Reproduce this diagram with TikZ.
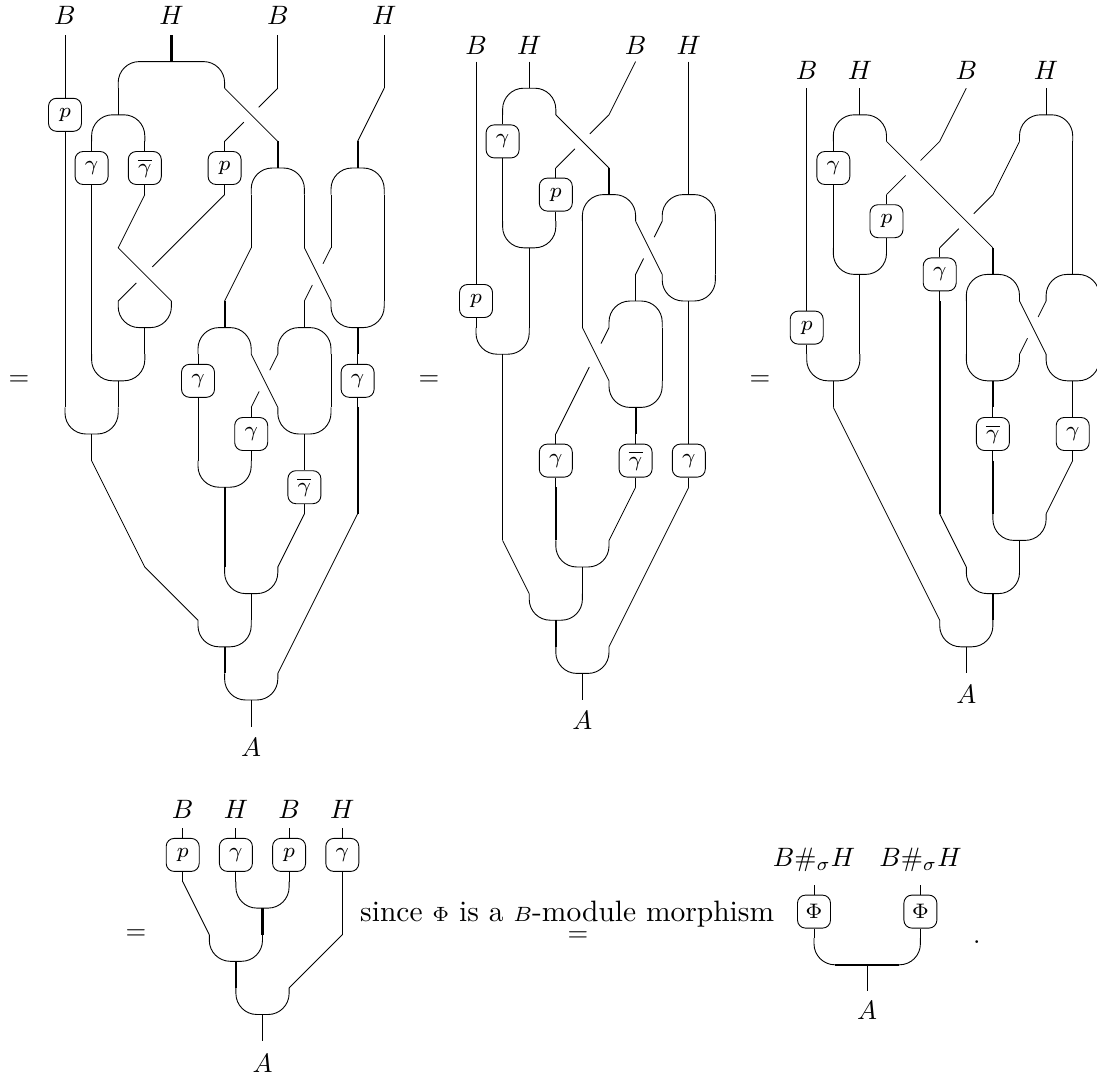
\documentclass[tikz,border=0pt]{standalone}
\usepackage{graphicx}
\usetikzlibrary{calc}
\newcommand{\sk}[1]{\scalebox{2.66}{#1}}
\newcommand{\skb}[1]{\scalebox{3.0}{#1}}
\tikzset{
  wire/.style={line width=1pt},
  diag/.style={line width=0.8pt},
  bold/.style={line width=2.2pt},
  arcw/.style={line width=0.9pt, rounded corners=21pt},
  boxn/.style={draw, line width=0.9pt, rounded corners=8pt, minimum width=33pt, minimum height=33pt, inner sep=0pt, fill=white},
  lbl/.style={inner sep=0pt}
}
\newcommand{\gbox}[4]{%
  \node[boxn] (#4) at (#1,#2+1) {\skb{$\scriptstyle #3$}};
  \draw[wire] (#1,#2) -- (#4.north);
  \draw[wire] (#4.south) -- (#1,#2+2);}
\newcommand{\gmult}[3]{\draw[arcw] (#1,#3) -- (#1,#3+1) -- (#2,#3+1) -- (#2,#3);}
\newcommand{\gcomult}[3]{\draw[arcw] (#1,#3+1) -- (#1,#3) -- (#2,#3) -- (#2,#3+1);}
\newcommand{\undr}[4]{\draw[diag] (#1) -- ($(#1)!#3!(#2)$); \draw[diag] ($(#1)!#4!(#2)$) -- (#2);}
\begin{document}
\begin{tikzpicture}[x=1pt,y=-1pt]
\useasboundingbox (0pt,0pt) rectangle (1097pt,-1076pt);
\clip (0pt,0pt) rectangle (1097pt,-1076pt);

% ================= Diagram 1 =================
\begin{scope}[shift={(65pt,-35pt)}, x=26.6pt, y=-26.6pt]
\node[lbl] (aB1) at (0,-0.75) {\sk{$B$}};
\node[lbl] (aH1) at (4,-0.75) {\sk{$H$}};
\node[lbl] (aB2) at (8,-0.75) {\sk{$B$}};
\node[lbl] (aH2) at (12,-0.75) {\sk{$H$}};
\node[lbl] (aA) at (7,26.77) {\sk{$A$}};
\draw[wire] (0,0) -- (0,2);
\gbox{0}{2}{p}{ap1}
\draw[wire] (0,4) -- (0,14);
\gmult{0}{2}{14}
\draw[bold] (4,0) -- (4,1);
\gcomult{2}{6}{1}
\draw[wire] (2,2) -- (2,3);
\gcomult{1}{3}{3}
\gbox{1}{4}{\gamma}{ag1}
\gbox{3}{4}{\overline{\gamma}}{agb1}
\draw[wire] (1,6) -- (1,12);
\gmult{1}{3}{12}
\draw[diag] (3,6) -- (2,8) -- (4,10);
\draw[wire] (8,0) -- (8,2);
\draw[diag] (6,2) -- (8,4);
\undr{8,2}{6,4}{0.36}{0.64}
\gbox{6}{4}{p}{ap2}
\undr{6,6}{2,10}{0.68}{0.83}
\gmult{2}{4}{10}
\draw[wire] (3,11) -- (3,12);
\draw[wire] (2,13) -- (2,14);
\draw[wire] (1,15) -- (1,16);
\draw[diag] (1,16) -- (3,20) -- (5,22);
\gmult{5}{7}{22}
\draw[bold] (6,23) -- (6,24);
\gmult{6}{8}{24}
\draw[wire] (7,25) -- (7,26);
\draw[bold] (8,4) -- (8,5);
\gcomult{7}{9}{5}
\draw[wire] (7,6) -- (7,8);
\draw[wire] (9,6) -- (9,8);
\draw[diag] (7,8) -- (6,10);
\draw[bold] (6,10) -- (6,11);
\gcomult{5}{7}{11}
\draw[diag] (9,8) -- (10,10);
\undr{10,8}{9,10}{0.3}{0.7}
\draw[wire] (12,0) -- (12,2);
\draw[diag] (12,2) -- (11,4);
\draw[bold] (11,4) -- (11,5);
\gcomult{10}{12}{5}
\draw[wire] (10,6) -- (10,8);
\draw[wire] (12,6) -- (12,10);
\gmult{10}{12}{10}
\draw[bold] (11,11) -- (11,12);
\gbox{11}{12}{\gamma}{ag2}
\draw[bold] (11,14) -- (11,18);
\draw[diag] (11,18) -- (8,24);
\draw[wire] (9,10) -- (9,11);
\gcomult{8}{10}{11}
\gbox{5}{12}{\gamma}{ag3}
\draw[wire] (5,14) -- (5,16);
\gmult{5}{7}{16}
\draw[diag] (7,12) -- (8,14);
\undr{8,12}{7,14}{0.3}{0.7}
\gbox{7}{14}{\gamma}{ag4}
\draw[wire] (10,12) -- (10,14);
\gmult{8}{10}{14}
\draw[wire] (9,15) -- (9,16);
\gbox{9}{16}{\overline{\gamma}}{agb2}
\draw[diag] (9,18) -- (8,20);
\draw[bold] (6,17) -- (6,20);
\gmult{6}{8}{20}
\draw[wire] (7,21) -- (7,22);
\end{scope}

% ================= Diagram 2 =================
\begin{scope}[shift={(476pt,-35pt)}, x=26.6pt, y=-26.6pt]
\node[lbl] (bB1) at (0,0.38) {\sk{$B$}};
\node[lbl] (bH1) at (2,0.38) {\sk{$H$}};
\node[lbl] (bB2) at (6,0.38) {\sk{$B$}};
\node[lbl] (bH2) at (8,0.38) {\sk{$H$}};
\node[lbl] (bA) at (4,25.75) {\sk{$A$}};
\draw[wire] (0,1) -- (0,9);
\gbox{0}{9}{p}{bp1}
\gmult{0}{2}{11}
\draw[wire] (2,1) -- (2,2);
\gcomult{1}{3}{2}
\gbox{1}{3}{\gamma}{bg1}
\draw[wire] (1,5) -- (1,7);
\gmult{1}{3}{7}
\draw[wire] (2,8) -- (2,11);
\draw[wire] (1,12) -- (1,19);
\draw[diag] (1,19) -- (2,21);
\gmult{2}{4}{21}
\draw[bold] (3,22) -- (3,23);
\gmult{3}{5}{23}
\draw[wire] (4,24) -- (4,25);
\draw[diag] (3,3) -- (5,5);
\draw[diag] (6,1) -- (5,3);
\undr{5,3}{3,5}{0.36}{0.64}
\gbox{3}{5}{p}{bp2}
\draw[bold] (5,5) -- (5,6);
\gcomult{4}{6}{6}
\draw[wire] (4,7) -- (4,11);
\draw[diag] (4,11) -- (5,13);
\draw[diag] (6,7) -- (7,9);
\draw[wire] (8,1) -- (8,6);
\gcomult{7}{9}{6}
\undr{7,7}{6,9}{0.3}{0.7}
\draw[wire] (9,7) -- (9,9);
\gmult{7}{9}{9}
\draw[wire] (8,10) -- (8,15);
\gbox{8}{15}{\gamma}{bg2}
\draw[diag] (8,17) -- (5,23);
\draw[wire] (6,9) -- (6,10);
\gcomult{5}{7}{10}
\draw[wire] (7,11) -- (7,13);
\gmult{5}{7}{13}
\draw[bold] (6,14) -- (6,15);
\gbox{6}{15}{\overline{\gamma}}{bgb}
\draw[diag] (6,17) -- (5,19);
\undr{5,11}{3,15}{0.15}{0.37}
\gbox{3}{15}{\gamma}{bg3}
\draw[bold] (3,17) -- (3,19);
\gmult{3}{5}{19}
\draw[wire] (4,20) -- (4,21);
\end{scope}

% ================= Diagram 3 =================
\begin{scope}[shift={(806.7pt,-35pt)}, x=26.6pt, y=-26.6pt]
\node[lbl] (cB1) at (0,1.32) {\sk{$B$}};
\node[lbl] (cH1) at (2,1.32) {\sk{$H$}};
\node[lbl] (cB2) at (6,1.32) {\sk{$B$}};
\node[lbl] (cH2) at (9,1.32) {\sk{$H$}};
\node[lbl] (cA) at (6,24.8) {\sk{$A$}};
\draw[wire] (0,2) -- (0,10);
\gbox{0}{10}{p}{cp1}
\gmult{0}{2}{12}
\draw[wire] (1,13) -- (1,14);
\draw[diag] (1,14) -- (5,22);
\gmult{5}{7}{22}
\draw[wire] (6,23) -- (6,24);
\draw[wire] (2,2) -- (2,3);
\gcomult{1}{3}{3}
\gbox{1}{4}{\gamma}{cg1}
\draw[wire] (1,6) -- (1,8);
\gmult{1}{3}{8}
\draw[wire] (2,9) -- (2,12);
\draw[diag] (3,4) -- (7,8);
\draw[diag] (6,2) -- (5,4);
\undr{5,4}{3,6}{0.36}{0.64}
\gbox{3}{6}{p}{cp2}
\draw[wire] (9,2) -- (9,3);
\gcomult{8}{10}{3}
\draw[diag] (8,4) -- (7,6);
\undr{7,6}{5,8}{0.36}{0.64}
\gbox{5}{8}{\gamma}{cg2}
\draw[bold] (5,10) -- (5,18);
\draw[diag] (5,18) -- (6,20);
\gmult{6}{8}{20}
\draw[bold] (7,21) -- (7,22);
\draw[bold] (7,8) -- (7,9);
\gcomult{6}{8}{9}
\draw[wire] (6,10) -- (6,12);
\gmult{6}{8}{12}
\draw[bold] (7,13) -- (7,14);
\gbox{7}{14}{\overline{\gamma}}{cgb}
\draw[bold] (7,16) -- (7,18);
\gmult{7}{9}{18}
\draw[wire] (8,19) -- (8,20);
\draw[diag] (8,10) -- (9,12);
\undr{9,10}{8,12}{0.3}{0.7}
\draw[wire] (10,4) -- (10,9);
\gcomult{9}{11}{9}
\draw[wire] (11,10) -- (11,12);
\gmult{9}{11}{12}
\draw[wire] (10,13) -- (10,14);
\gbox{10}{14}{\gamma}{cg3}
\draw[diag] (10,16) -- (9,18);
\end{scope}

% ================= Diagram 4 =================
\begin{scope}[shift={(182.7pt,-828.3pt)}, x=26.6pt, y=-26.6pt]
\node[lbl] (dB1) at (0,-0.7) {\sk{$B$}};
\node[lbl] (dH1) at (2,-0.7) {\sk{$H$}};
\node[lbl] (dB2) at (4,-0.7) {\sk{$B$}};
\node[lbl] (dH2) at (6,-0.7) {\sk{$H$}};
\node[lbl] (dA) at (3,8.82) {\sk{$A$}};
\gbox{0}{0}{p}{dp1}
\gbox{2}{0}{\gamma}{dg1}
\gbox{4}{0}{p}{dp2}
\gbox{6}{0}{\gamma}{dg2}
\draw[diag] (0,2) -- (1,4);
\gmult{1}{3}{4}
\gmult{2}{4}{2}
\draw[bold] (3,3) -- (3,4);
\draw[wire] (6,2) -- (6,4);
\draw[diag] (6,4) -- (4,6);
\draw[bold] (2,5) -- (2,6);
\gmult{2}{4}{6}
\draw[wire] (3,7) -- (3,8);
\end{scope}

% ================= Diagram 5 =================
\begin{scope}[shift={(814pt,-885pt)}, x=26.6pt, y=-26.6pt]
\node[lbl] (eL1) at (0,-0.95) {\sk{$B\#_\sigma H$}};
\node[lbl] (eL2) at (4,-0.95) {\sk{$B\#_\sigma H$}};
\node[lbl] (eA) at (2,4.7) {\sk{$A$}};
\gbox{0}{0}{\Phi}{eP1}
\gbox{4}{0}{\Phi}{eP2}
\gmult{0}{4}{2}
\draw[bold] (0.8,3) -- (3.2,3);
\draw[wire] (2,3) -- (2,4);
\end{scope}

% ================= texts =================
\node[lbl] (eq1) at (19pt,-381pt) {\sk{$=$}};
\node[lbl] (eq2) at (429pt,-381pt) {\sk{$=$}};
\node[lbl] (eq3) at (760pt,-381pt) {\sk{$=$}};
\node[lbl] (eq4) at (136pt,-935pt) {\sk{$=$}};
\node[lbl] (eq5) at (578pt,-937pt) {\sk{$=$}};
\node[lbl, anchor=base west] (since) at (360pt,-921.7pt) {\scalebox{2.95}{since $\scriptstyle\Phi$ is a $\scriptstyle B$-module morphism}};
\node[lbl] (dot) at (976.7pt,-941.7pt) {\sk{.}};
\end{tikzpicture}
\end{document}
